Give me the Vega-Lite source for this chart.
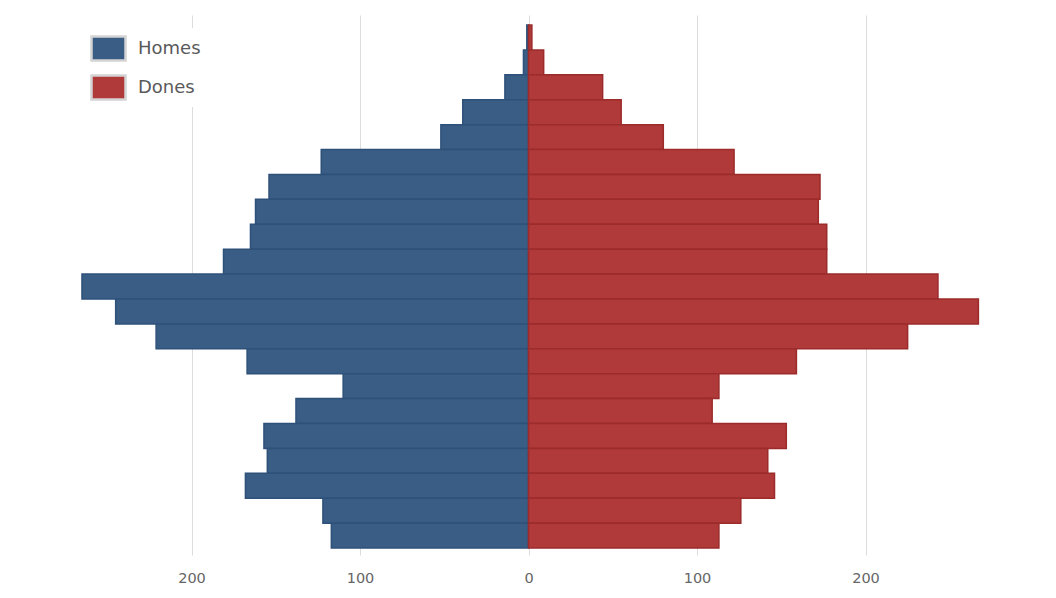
{
  "$schema": "https://vega.github.io/schema/vega-lite/v6.json",
  "autosize": {"type": "none"},
  "padding": {"left": 23, "top": 15, "right": 22, "bottom": 43},
  "width": 1011,
  "height": 540,
  "background": "white",
  "config": {"view": {"stroke": null}, "font": "DejaVu Sans"},
  "data": {
    "values": [
      {"age": "100+", "sex": "Homes", "value": 1}, {"age": "100+", "sex": "Dones", "value": 2},
      {"age": "95-99", "sex": "Homes", "value": 3}, {"age": "95-99", "sex": "Dones", "value": 9},
      {"age": "90-94", "sex": "Homes", "value": 14}, {"age": "90-94", "sex": "Dones", "value": 44},
      {"age": "85-89", "sex": "Homes", "value": 39}, {"age": "85-89", "sex": "Dones", "value": 55},
      {"age": "80-84", "sex": "Homes", "value": 52}, {"age": "80-84", "sex": "Dones", "value": 80},
      {"age": "75-79", "sex": "Homes", "value": 123}, {"age": "75-79", "sex": "Dones", "value": 122},
      {"age": "70-74", "sex": "Homes", "value": 154}, {"age": "70-74", "sex": "Dones", "value": 173},
      {"age": "65-69", "sex": "Homes", "value": 162}, {"age": "65-69", "sex": "Dones", "value": 172},
      {"age": "60-64", "sex": "Homes", "value": 165}, {"age": "60-64", "sex": "Dones", "value": 177},
      {"age": "55-59", "sex": "Homes", "value": 181}, {"age": "55-59", "sex": "Dones", "value": 177},
      {"age": "50-54", "sex": "Homes", "value": 265}, {"age": "50-54", "sex": "Dones", "value": 243},
      {"age": "45-49", "sex": "Homes", "value": 245}, {"age": "45-49", "sex": "Dones", "value": 267},
      {"age": "40-44", "sex": "Homes", "value": 221}, {"age": "40-44", "sex": "Dones", "value": 225},
      {"age": "35-39", "sex": "Homes", "value": 167}, {"age": "35-39", "sex": "Dones", "value": 159},
      {"age": "30-34", "sex": "Homes", "value": 110}, {"age": "30-34", "sex": "Dones", "value": 113},
      {"age": "25-29", "sex": "Homes", "value": 138}, {"age": "25-29", "sex": "Dones", "value": 109},
      {"age": "20-24", "sex": "Homes", "value": 157}, {"age": "20-24", "sex": "Dones", "value": 153},
      {"age": "15-19", "sex": "Homes", "value": 155}, {"age": "15-19", "sex": "Dones", "value": 142},
      {"age": "10-14", "sex": "Homes", "value": 168}, {"age": "10-14", "sex": "Dones", "value": 146},
      {"age": "5-9", "sex": "Homes", "value": 122}, {"age": "5-9", "sex": "Dones", "value": 126},
      {"age": "0-4", "sex": "Homes", "value": 117}, {"age": "0-4", "sex": "Dones", "value": 113}
    ]
  },
  "transform": [
    {"calculate": "datum.sex == 'Homes' ? -datum.value : datum.value", "as": "signed"}
  ],
  "mark": {
    "type": "bar",
    "strokeWidth": 1.5,
    "opacity": 1,
    "stroke": {"expr": "datum.sex == 'Homes' ? '#2e5179' : '#9c2b2b'"}
  },
  "encoding": {
    "y": {
      "field": "age",
      "type": "nominal",
      "sort": null,
      "scale": {"paddingInner": 0, "paddingOuter": 0.341, "align": 0.59},
      "axis": null
    },
    "x": {
      "field": "signed",
      "type": "quantitative",
      "stack": null,
      "scale": {"domain": [-300, 300], "nice": false},
      "axis": {
        "title": null,
        "values": [-200, -100, 0, 100, 200],
        "labelExpr": "format(abs(datum.value), 'd')",
        "domain": false,
        "ticks": false,
        "grid": true,
        "gridColor": "#dcdcdc",
        "gridWidth": 1,
        "labelFontSize": 14.5,
        "labelColor": "#666666",
        "labelPadding": 16
      }
    },
    "color": {
      "field": "sex",
      "type": "nominal",
      "scale": {"domain": ["Homes", "Dones"], "range": ["#3a5d85", "#b03939"]},
      "legend": {
        "title": null,
        "orient": "none",
        "legendX": 65,
        "legendY": 13,
        "symbolType": "M-1,-0.71H1V0.71H-1Z",
        "symbolSize": 1156,
        "symbolStrokeColor": "#d4d4d4",
        "symbolStrokeWidth": 2.5,
        "symbolOpacity": 1,
        "labelFontSize": 18,
        "labelColor": "#5a5a5a",
        "labelOffset": 11,
        "rowPadding": 3,
        "padding": 2,
        "fillColor": "white"
      }
    }
  }
}
